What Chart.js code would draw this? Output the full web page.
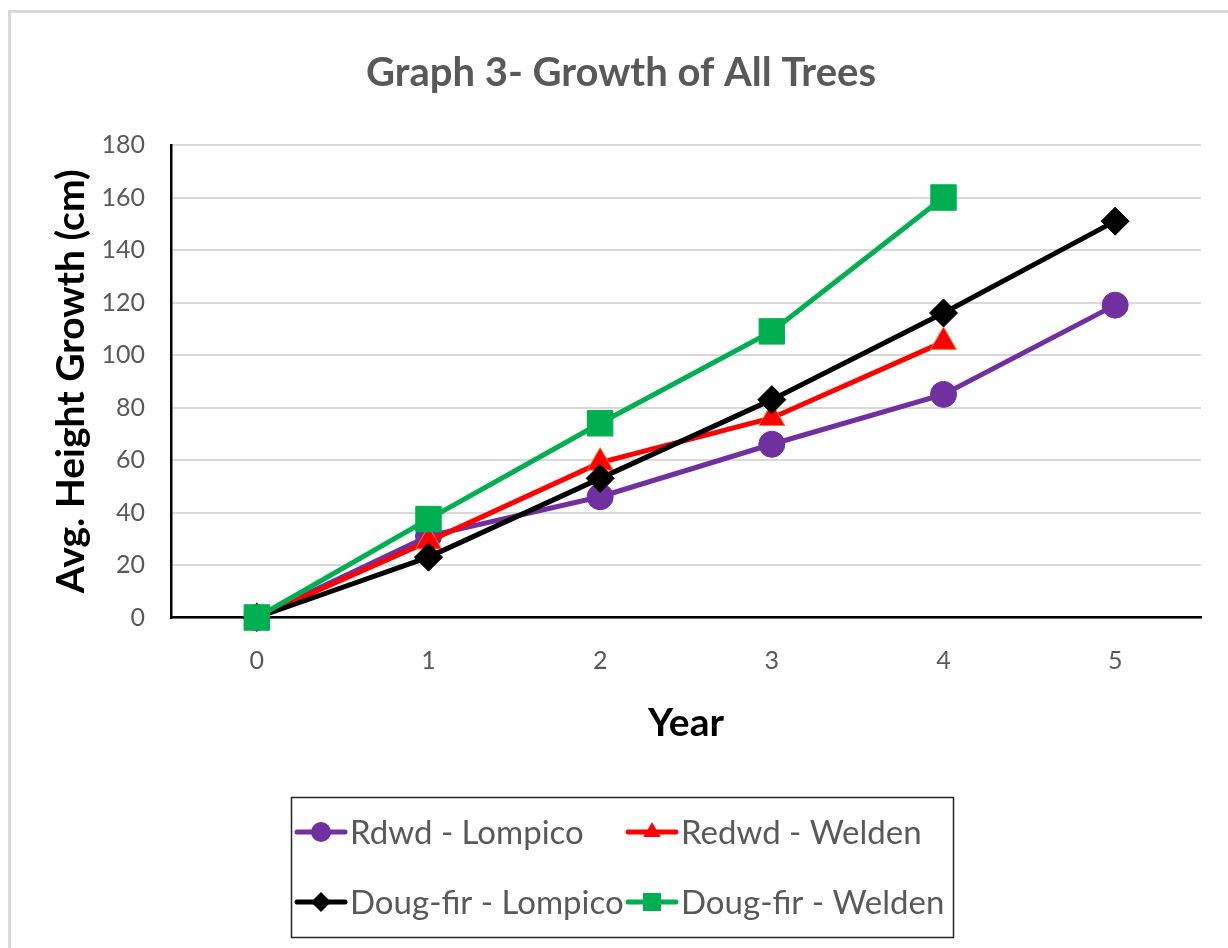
<!DOCTYPE html>
<html><head><meta charset="utf-8">
<script src="https://cdn.jsdelivr.net/npm/chart.js@4/dist/chart.umd.min.js"></script>
<style>html,body{margin:0;padding:0;background:#fff}#wrap{width:1228px;height:948px}</style>
</head><body><div id="wrap"><canvas id="c" width="1228" height="948"></canvas></div>
<script>
// ---- data ----
const years = ['0', '1', '2', '3', '4', '5'];
const seriesNames = ['Rdwd - Lompico', 'Redwd - Welden', 'Doug-fir - Lompico', 'Doug-fir - Welden'];
const rdwdLompico = [0, 31, 46, 66, 85, 119];
const redwdWelden = [0, 29, 59, 76, 105, null];
const dougLompico = [0, 23, 53, 83, 116, 151];
const dougWelden = [0, 37.5, 74, 109, 160, null];
const yMin = 0, yMax = 180, yStep = 20;

const chartTitle = 'Graph 3- Growth of All Trees';
const yTitle = 'Avg. Height Growth (cm)';
const xTitle = 'Year';

const FONT = 'Lato, "Open Sans", "DejaVu Sans", sans-serif';
const colors = ['#7030A0', '#FF0000', '#000000', '#00B050'];
const shapes = ['circle', 'triangle', 'rectRot', 'rect'];
const radii = [13, 15, 14, 18];
const seriesData = [rdwdLompico, redwdWelden, dougLompico, dougWelden];

const datasets = seriesData.map((d, i) => ({
  label: seriesNames[i],
  data: d,
  borderColor: colors[i],
  backgroundColor: colors[i],
  pointBackgroundColor: colors[i],
  pointBorderColor: i === 1 ? '#ED7D31' : colors[i],
  pointBorderWidth: 1,
  pointStyle: shapes[i],
  pointRadius: radii[i],
  pointHoverRadius: radii[i],
  borderWidth: 5,
  tension: 0,
  clip: false,
  order: 4 - i
}));

function drawMarker(ctx, shape, x, y, r, color) {
  ctx.save();
  ctx.fillStyle = color;
  ctx.beginPath();
  if (shape === 'circle') {
    ctx.arc(x, y, r, 0, Math.PI * 2);
  } else if (shape === 'triangle') {
    ctx.moveTo(x, y - r);
    ctx.lineTo(x + r * 0.866, y + r * 0.5);
    ctx.lineTo(x - r * 0.866, y + r * 0.5);
    ctx.closePath();
  } else if (shape === 'rectRot') {
    ctx.moveTo(x, y - r); ctx.lineTo(x + r, y); ctx.lineTo(x, y + r); ctx.lineTo(x - r, y);
    ctx.closePath();
  } else {
    ctx.rect(x - r * 0.75, y - r * 0.75, r * 1.5, r * 1.5);
  }
  ctx.fill();
  ctx.restore();
}

const frameAndLegend = {
  id: 'frameAndLegend',
  beforeDraw(chart) {
    const ctx = chart.ctx;
    ctx.save();
    ctx.fillStyle = '#fff';
    ctx.fillRect(0, 0, chart.width, chart.height);
    ctx.strokeStyle = '#d9d9d9';
    ctx.lineWidth = 3;
    ctx.strokeRect(9.5, 11.5, 1260, 980);
    ctx.restore();
  },
  afterDraw(chart) {
    const ctx = chart.ctx;
    ctx.save();
    // legend box
    ctx.strokeStyle = '#262626';
    ctx.lineWidth = 1.5;
    ctx.strokeRect(291.5, 797.5, 662, 140);
    const cols = [297, 628];
    const rows = [832, 902];
    ctx.font = '33px ' + FONT;
    ctx.textBaseline = 'middle';
    ctx.textAlign = 'left';
    chart.data.datasets.forEach((ds, i) => {
      const x0 = cols[i % 2], y = rows[Math.floor(i / 2)];
      ctx.strokeStyle = ds.borderColor;
      ctx.lineWidth = 5;
      ctx.lineCap = 'round';
      ctx.beginPath();
      ctx.moveTo(x0, y); ctx.lineTo(x0 + 48, y);
      ctx.stroke();
      drawMarker(ctx, ds.pointStyle, x0 + 24, y, ds.pointStyle === 'rect' ? 12 : 10, ds.backgroundColor);
      ctx.fillStyle = '#595959';
      ctx.fillText(ds.label, x0 + 53, y + 1);
    });
    ctx.restore();
  }
};

new Chart(document.getElementById('c'), {
  type: 'line',
  data: { labels: years, datasets },
  plugins: [frameAndLegend],
  options: {
    responsive: false,
    animation: false,
    devicePixelRatio: 1,
    layout: { padding: { left: 41, right: 27, top: 0, bottom: 195.5 } },
    plugins: {
      legend: { display: false },
      tooltip: { enabled: false },
      title: {
        display: true,
        text: chartTitle,
        color: '#595959',
        font: { family: FONT, size: 40, weight: 'bold' },
        padding: { top: 49, bottom: 48 }
      }
    },
    scales: {
      x: {
        type: 'category',
        offset: true,
        grid: { display: false, drawTicks: false },
        border: { display: true, color: '#000', width: 2.5 },
        ticks: { color: '#595959', font: { family: FONT, size: 25 }, padding: 28, maxRotation: 0 },
        title: { display: true, text: xTitle, color: '#000', font: { family: FONT, size: 39, weight: 'bold' }, padding: { top: 0, bottom: 6 } },
        afterFit(scale) { scale.height = 135; }
      },
      y: {
        min: yMin, max: yMax,
        ticks: { stepSize: yStep, color: '#595959', font: { family: FONT, size: 25 }, padding: 26 },
        grid: { color: '#d9d9d9', lineWidth: 2, drawTicks: false },
        border: { display: true, color: '#000', width: 2.5 },
        title: { display: true, text: yTitle, color: '#000', font: { family: FONT, size: 39, weight: 'bold' }, padding: { top: 7, bottom: 0 } },
        afterFit(scale) { scale.width = 130; }
      }
    }
  }
});
</script>
</body></html>
